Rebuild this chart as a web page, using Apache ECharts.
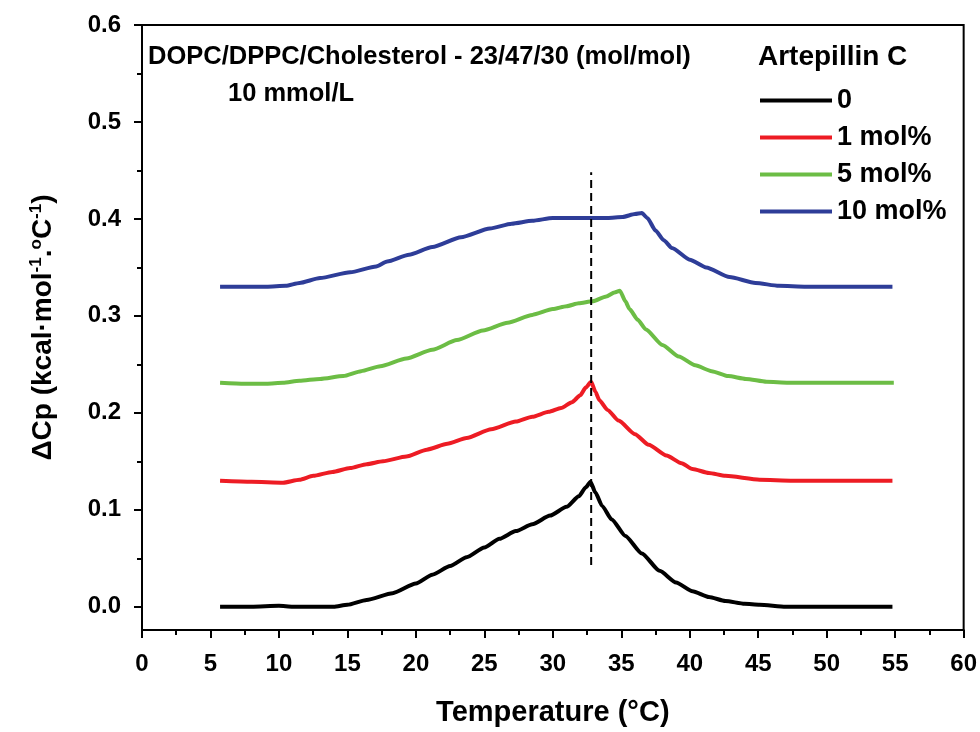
<!DOCTYPE html>
<html>
<head>
<meta charset="utf-8">
<script src="https://cdn.jsdelivr.net/npm/echarts@6/dist/echarts.min.js"></script>
<style>
  html, body { margin: 0; padding: 0; background: #fff; }
  #chart { width: 980px; height: 732px; }
</style>
</head>
<body>
<div id="chart"></div>
<script>
// Excess heat capacity scans, DOPC/DPPC/Cholesterol 23/47/30, with Artepillin C
const seriesNames = ['0', '1 mol%', '5 mol%', '10 mol%'];
const seriesColors = ['#000000', '#ed1c24', '#6cbd45', '#2e3d98'];

// 0 mol%
const temp0 = [5.7, 8, 10, 11, 14, 15, 16.4, 18.3, 20, 21.2, 22.5, 23.7, 25, 26.1, 27.3, 28.5, 29.8, 31.0, 31.9, 32.4, 32.75, 33.1, 33.6, 34.3, 35.3, 36.5, 37.8, 39, 40.2, 41.4, 42.6, 44, 45.1, 47, 54.8];
const cp0 = [0.000, 0.000, 0.001, 0.000, 0.000, 0.002, 0.007, 0.014, 0.024, 0.033, 0.042, 0.051, 0.061, 0.070, 0.078, 0.085, 0.094, 0.103, 0.114, 0.123, 0.129, 0.118, 0.104, 0.090, 0.073, 0.055, 0.037, 0.025, 0.016, 0.010, 0.006, 0.003, 0.002, 0.000, 0.000];

// 1 mol%
const temp1 = [5.7, 8, 10.3, 11.5, 12.5, 13.9, 15.2, 16.4, 17.6, 19.3, 20.8, 22.3, 23.7, 25.5, 27.3, 28.5, 29.7, 30.6, 31.4, 32.0, 32.4, 32.8, 33.1, 33.4, 34.0, 34.8, 36.0, 37.0, 38.3, 39.4, 40.2, 41.4, 42.6, 45.1, 47.5, 54.8];
const cp1 = [0.130, 0.129, 0.128, 0.131, 0.135, 0.139, 0.143, 0.147, 0.150, 0.155, 0.162, 0.168, 0.174, 0.183, 0.191, 0.196, 0.201, 0.205, 0.211, 0.218, 0.226, 0.232, 0.222, 0.213, 0.203, 0.192, 0.178, 0.167, 0.156, 0.148, 0.142, 0.138, 0.135, 0.131, 0.130, 0.130];

// 5 mol%
const temp5 = [5.7, 7.5, 9.1, 10.3, 11.5, 13, 14.7, 16, 17.4, 19.3, 21.2, 23, 24.9, 26.7, 28.5, 30, 31.0, 31.9, 32.9, 33.9, 34.5, 34.9, 35.3, 35.6, 36.2, 36.8, 38, 39.2, 40.4, 41.6, 42.8, 44.1, 45.6, 47.2, 54.9];
const cp5 = [0.231, 0.230, 0.230, 0.231, 0.233, 0.235, 0.238, 0.243, 0.248, 0.256, 0.265, 0.275, 0.285, 0.293, 0.301, 0.307, 0.310, 0.313, 0.315, 0.320, 0.324, 0.326, 0.315, 0.307, 0.296, 0.286, 0.270, 0.258, 0.249, 0.243, 0.238, 0.235, 0.232, 0.231, 0.231];

// 10 mol%
const temp10 = [5.7, 8, 9.1, 10.5, 11.5, 13.0, 15.2, 17.1, 17.9, 19.5, 21.2, 23.3, 25.4, 27.0, 28.5, 30.0, 32, 34, 35.1, 36.0, 36.5, 36.9, 37.5, 38.1, 38.7, 40, 41.2, 42.9, 44.8, 46.5, 48.5, 54.8];
const cp10 = [0.330, 0.330, 0.330, 0.331, 0.334, 0.339, 0.345, 0.351, 0.356, 0.363, 0.371, 0.381, 0.390, 0.395, 0.398, 0.401, 0.401, 0.401, 0.402, 0.405, 0.406, 0.401, 0.388, 0.378, 0.370, 0.358, 0.350, 0.340, 0.334, 0.331, 0.330, 0.330];

// vertical reference line at the main transition temperature
const peakLineTemp = [32.8, 32.8];
const peakLineCp = [0.043, 0.448];

// axis ticks
const xTicks = [0, 5, 10, 15, 20, 25, 30, 35, 40, 45, 50, 55, 60];
const yTicks = [0.0, 0.1, 0.2, 0.3, 0.4, 0.5, 0.6];
const yMinorTicks = [0.05, 0.15, 0.25, 0.35, 0.45, 0.55];

const FONT = '"Liberation Sans", Arial, Helvetica, sans-serif';
const temps = [temp0, temp1, temp5, temp10];
const cps = [cp0, cp1, cp5, cp10];

const pair = (xs, ys) => xs.map((x, i) => [x, ys[i]]);

const curveSeries = seriesNames.map((name, i) => ({
  name: name,
  type: 'line',
  data: pair(temps[i], cps[i]),
  showSymbol: false,
  symbol: 'none',
  smooth: 0.2,
  smoothMonotone: 'x',
  lineStyle: { color: seriesColors[i], width: 4 },
  itemStyle: { color: seriesColors[i] },
  z: 3
}));

const chart = echarts.init(document.getElementById('chart'), null, { renderer: 'canvas' });

chart.setOption({
  backgroundColor: '#ffffff',
  animation: false,
  grid: {
    left: 142, right: 15, top: 25, bottom: 99,
    show: true, borderColor: '#000', borderWidth: 2, backgroundColor: 'transparent'
  },
  legend: {
    data: seriesNames,
    orient: 'vertical',
    left: 755,
    top: 82,
    icon: 'rect',
    itemWidth: 72,
    itemHeight: 4,
    itemGap: 10,
    textStyle: { fontFamily: FONT, fontWeight: 'bold', fontSize: 27, color: '#000', lineHeight: 27 }
  },
  xAxis: {
    type: 'value',
    min: 0, max: 60, interval: 5,
    name: 'Temperature (\u00B0C)',
    nameLocation: 'middle',
    nameGap: 68,
    nameTextStyle: { fontFamily: FONT, fontWeight: 'bold', fontSize: 29, color: '#000' },
    axisLine: { show: true, onZero: false, lineStyle: { color: '#000', width: 2 } },
    axisTick: { show: true, inside: false, length: 8, lineStyle: { color: '#000', width: 2 } },
    minorTick: { show: true, splitNumber: 2, length: 5, lineStyle: { color: '#000', width: 2 } },
    axisLabel: {
      margin: 22, fontFamily: FONT, fontWeight: 'bold', fontSize: 24, color: '#000',
      customValues: xTicks
    },
    splitLine: { show: false },
    minorSplitLine: { show: false }
  },
  yAxis: [{
    type: 'value',
    min: -0.024, max: 0.6,
    name: '\u0394Cp (kcal\u00B7mol{sup|-1}.{sup|o}C{sup|-1})',
    nameLocation: 'middle',
    nameGap: 84,
    nameTextStyle: {
      fontFamily: FONT, fontWeight: 'bold', fontSize: 28, color: '#000',
      rich: {
        sup: { fontFamily: FONT, fontWeight: 'bold', fontSize: 17, color: '#000', verticalAlign: 'top', lineHeight: 30 }
      }
    },
    axisLine: { show: true, onZero: false, lineStyle: { color: '#000', width: 2 } },
    axisTick: { show: true, inside: false, length: 8, lineStyle: { color: '#000', width: 2 }, customValues: yTicks },
    axisLabel: {
      margin: 21, fontFamily: FONT, fontWeight: 'bold', fontSize: 24, color: '#000',
      customValues: yTicks,
      formatter: v => v.toFixed(1)
    },
    splitLine: { show: false }
  }, {
    type: 'value',
    min: -0.024, max: 0.6,
    position: 'left',
    axisLine: { show: false },
    axisTick: { show: true, inside: false, length: 5, lineStyle: { color: '#000', width: 2 }, customValues: yMinorTicks },
    axisLabel: { show: false },
    splitLine: { show: false }
  }],
  graphic: [
    {
      type: 'text', left: 148, top: 44, z: 10,
      style: { text: 'DOPC/DPPC/Cholesterol - 23/47/30 (mol/mol)', fill: '#000', font: 'bold 25.5px ' + FONT }
    },
    {
      type: 'text', left: 228, top: 81, z: 10,
      style: { text: '10 mmol/L', fill: '#000', font: 'bold 25.5px ' + FONT }
    },
    {
      type: 'text', left: 758, top: 43, z: 10,
      style: { text: 'Artepillin C', fill: '#000', font: 'bold 28px ' + FONT }
    }
  ],
  series: curveSeries.concat([{
    name: 'peak',
    type: 'line',
    data: pair(peakLineTemp, peakLineCp),
    showSymbol: false,
    symbol: 'none',
    lineStyle: { color: '#000', width: 2, type: [8, 5] },
    z: 4,
    silent: true
  }])
});
</script>
</body>
</html>
